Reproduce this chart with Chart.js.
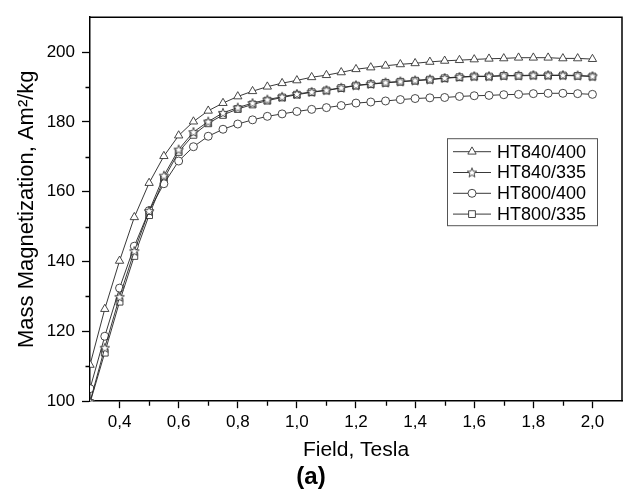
<!DOCTYPE html>
<html><head><meta charset="utf-8">
<script src="https://cdn.jsdelivr.net/npm/chart.js@4/dist/chart.umd.min.js"></script>
<style>html,body{margin:0;padding:0;background:#fff;}#wrap{width:631px;height:495px;}</style>
</head><body><div id="wrap"><canvas id="c" width="631" height="495"></canvas></div>
<script>
const fieldTesla = [0.30,0.35,0.40,0.45,0.50,0.55,0.60,0.65,0.70,0.75,0.80,0.85,0.90,0.95,1.00,1.05,1.10,1.15,1.20,1.25,1.30,1.35,1.40,1.45,1.50,1.55,1.60,1.65,1.70,1.75,1.80,1.85,1.90,1.95,2.00];
const seriesLabels = ['HT840/400','HT840/335','HT800/400','HT800/335'];
const ht840_400 = [110.4,126.4,140.2,152.7,162.5,170.2,176.1,180.1,183.2,185.4,187.3,188.8,190.1,191.1,191.9,192.8,193.4,194.2,195.1,195.6,196.1,196.5,196.8,197.2,197.5,197.7,197.9,198.1,198.2,198.4,198.4,198.4,198.2,198.2,198.0];
const ht840_335 = [99.8,115.3,129.9,143.0,154.5,164.6,172.1,177.1,180.1,182.6,184.1,185.4,186.4,187.2,188.0,188.6,189.1,189.8,190.5,190.9,191.3,191.6,191.9,192.2,192.6,192.9,193.1,193.1,193.3,193.3,193.4,193.4,193.4,193.3,193.1];
const ht800_400 = [103.6,118.6,132.4,144.4,154.6,162.3,168.8,172.9,175.9,177.9,179.4,180.6,181.6,182.3,183.0,183.6,184.1,184.7,185.4,185.7,186.0,186.4,186.7,186.9,187.0,187.3,187.5,187.6,187.8,187.9,188.1,188.2,188.2,188.1,187.9];
const ht800_335 = [99.5,113.9,128.5,141.6,153.3,163.7,171.4,176.3,179.6,182.0,183.7,185.0,186.1,187.0,187.8,188.5,189.0,189.7,190.4,190.8,191.2,191.5,191.8,192.1,192.5,192.8,193.0,193.0,193.2,193.2,193.3,193.3,193.3,193.2,193.0];
const xTickLabels = ['0,4','0,6','0,8','1,0','1,2','1,4','1,6','1,8','2,0'];
const yTickLabels = ['100','120','140','160','180','200'];

const FONT = "'Liberation Sans', Arial, sans-serif";
const INK = '#333';

function makeStar(){
  const c = document.createElement('canvas');
  c.width = 12; c.height = 12;
  const g = c.getContext('2d');
  g.translate(6,6.4);
  g.beginPath();
  for(let i=0;i<10;i++){
    const r = i%2===0 ? 5 : 2.1;
    const a = -Math.PI/2 + i*Math.PI/5;
    const px = r*Math.cos(a), py = r*Math.sin(a);
    if(i===0) g.moveTo(px,py); else g.lineTo(px,py);
  }
  g.closePath();
  g.fillStyle='#fff'; g.fill();
  g.strokeStyle=INK; g.lineWidth=0.9; g.stroke();
  return c;
}
const starImg = makeStar();

function toPts(arr){ return fieldTesla.map((x,i)=>({x:x,y:arr[i]})); }
function ds(label, arr, style, radius){
  return {label:label, data:toPts(arr), borderColor:'#222', borderWidth:0.9, tension:0,
    pointStyle:style, pointRadius:radius, pointHoverRadius:radius, pointBorderColor:INK,
    pointBackgroundColor:'#fff', pointBorderWidth:0.9, fill:false};
}
const datasets = [
  ds(seriesLabels[0], ht840_400, 'triangle', 4.8),
  ds(seriesLabels[1], ht840_335, starImg, 4.5),
  ds(seriesLabels[2], ht800_400, 'circle', 4),
  ds(seriesLabels[3], ht800_335, 'rect', 4.8)
];

function xLabel(v){
  const k = Math.round(v*10);
  const s = (k/10).toFixed(1).replace('.',',');
  return xTickLabels.includes(s) ? s : '';
}
function yLabel(v){
  const s = String(Math.round(v));
  return yTickLabels.includes(s) ? s : '';
}

const extras = {
  id:'extras',
  afterDraw(chart){
    const ctx = chart.ctx, a = chart.chartArea;
    const xs = chart.scales.x, ys = chart.scales.y;
    ctx.save();
    ctx.strokeStyle = '#000'; ctx.lineWidth = 1.5;
    ctx.beginPath();
    ctx.moveTo(a.left, a.top); ctx.lineTo(a.right, a.top); ctx.lineTo(a.right, a.bottom);
    ctx.stroke();
    // minor ticks
    ctx.lineWidth = 1.3;
    ctx.beginPath();
    xs.ticks.forEach(t=>{
      if(xLabel(t.value)==='' && t.value>xs.min+1e-6 && t.value<xs.max-1e-6){
        const p = Math.round(xs.getPixelForValue(t.value))+0.5;
        ctx.moveTo(p, a.bottom); ctx.lineTo(p, a.bottom+4.5);
      }
    });
    ys.ticks.forEach(t=>{
      if(yLabel(t.value)==='' && t.value>ys.min+1e-6 && t.value<ys.max-1e-6){
        const p = Math.round(ys.getPixelForValue(t.value))+0.5;
        ctx.moveTo(a.left-4.5, p); ctx.lineTo(a.left, p);
      }
    });
    ctx.stroke();
    // legend
    const L = a.left + 357, T = a.top + 121, W = 150, H = 87;
    ctx.fillStyle = '#fff';
    ctx.fillRect(L, T, W, H);
    ctx.strokeStyle = '#555'; ctx.lineWidth = 1;
    ctx.strokeRect(L+0.5, T+0.5, W, H);
    chart.data.datasets.forEach((d,i)=>{
      const y = T + 13.5 + i*20.8;
      ctx.strokeStyle = d.borderColor; ctx.lineWidth = 0.9;
      ctx.beginPath(); ctx.moveTo(L+6, y); ctx.lineTo(L+44, y); ctx.stroke();
      ctx.fillStyle = '#fff'; ctx.strokeStyle = INK; ctx.lineWidth = 0.9;
      Chart.helpers.drawPoint(ctx, {pointStyle:d.pointStyle, radius:d.pointRadius, borderWidth:0.9, rotation:0}, L+25, y);
      ctx.fillStyle = '#000';
      ctx.font = '18px ' + FONT;
      ctx.textBaseline = 'middle'; ctx.textAlign = 'left';
      ctx.fillText(d.label, L+50, y+1);
    });
    ctx.restore();
  }
};

new Chart(document.getElementById('c'), {
  type:'line',
  data:{datasets:datasets},
  plugins:[extras],
  options:{
    responsive:false, animation:false, devicePixelRatio:1,
    layout:{padding:{left:0,right:9,top:10,bottom:0}},
    plugins:{
      legend:{display:false}, tooltip:{enabled:false},
      title:{display:true, position:'bottom', text:'(a)', color:'#000',
        font:{family:FONT, size:24, weight:'bold'}, padding:{top:0,bottom:3}}
    },
    scales:{
      x:{type:'linear', min:0.3, max:2.1,
        ticks:{stepSize:0.1, autoSkip:false, maxRotation:0, minRotation:0, color:'#000', padding:4,
          font:{family:FONT, size:17}, callback:(v)=>xLabel(v)},
        grid:{drawOnChartArea:false, drawTicks:true, tickLength:7, tickWidth:1.3,
          tickColor:(c)=> (c.tick && xLabel(c.tick.value)!=='') ? '#000' : 'rgba(0,0,0,0)'},
        border:{color:'#000', width:1.5},
        title:{display:true, text:'Field, Tesla', color:'#000', font:{family:FONT, size:21}, padding:{top:0,bottom:0}},
        afterFit:(s)=>{ s.height = 62; }
      },
      y:{type:'linear', min:100, max:210,
        ticks:{stepSize:10, autoSkip:false, color:'#000', padding:7,
          font:{family:FONT, size:17}, callback:(v)=>yLabel(v)},
        grid:{drawOnChartArea:false, drawTicks:true, tickLength:8, tickWidth:1.3,
          tickColor:(c)=> (c.tick && yLabel(c.tick.value)!=='') ? '#000' : 'rgba(0,0,0,0)'},
        border:{color:'#000', width:1.5},
        title:{display:true, text:'Mass Magnetization, Am\u00B2/kg', color:'#000', font:{family:FONT, size:22}, padding:{top:14,bottom:0}},
        afterFit:(s)=>{ s.width = 90; }
      }
    }
  }
});
</script>
</body></html>
